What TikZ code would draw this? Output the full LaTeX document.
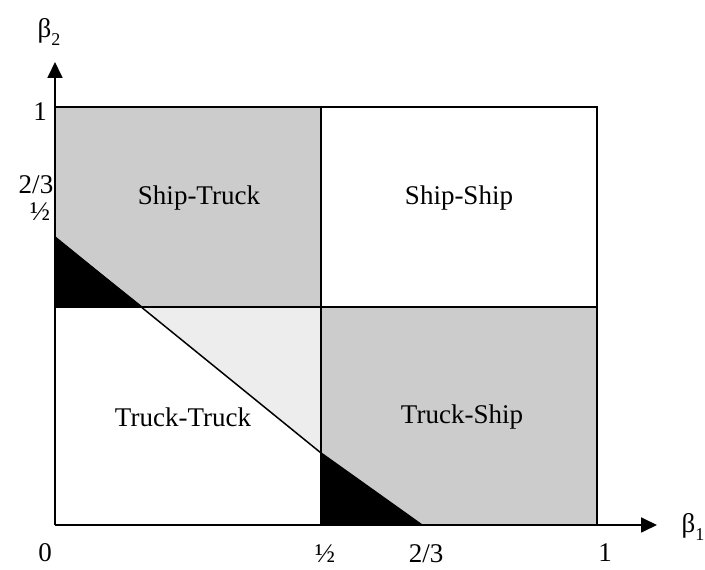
\documentclass[tikz,border=0pt]{standalone}
\usepackage{fontspec}
\setmainfont{Liberation Serif}
\usetikzlibrary{arrows.meta}
\tikzset{
  lbl/.style={font=\fontsize{27}{30}\selectfont, inner sep=0pt},
  boxline/.style={line width=1.8pt},
  axis/.style={line width=1.8pt, -{Triangle[length=16pt,width=15pt]}},
  diag/.style={line width=1.5pt},
  darkfill/.style={fill=black!20},
  lightfill/.style={fill=black!7},
}
\newcommand{\sbx}[1]{\raisebox{-0.28em}{\fontsize{18}{18}\selectfont #1}}
\begin{document}
\begin{tikzpicture}[x=1pt,y=1pt]
\useasboundingbox (0,0) rectangle (705,570);
% coordinates
\coordinate (O) at (55,45);
\coordinate (TL) at (55,463);
\coordinate (TR) at (597,463);
\coordinate (BR) at (597,45);
\coordinate (ML) at (55,263);
\coordinate (MR) at (597,263);
\coordinate (MT) at (321,463);
\coordinate (MB) at (321,45);
\coordinate (C) at (321,263);
\coordinate (A1) at (55,333);
\coordinate (A2) at (143,263);
\coordinate (B1) at (321,117);
\coordinate (B2) at (422,45);
\coordinate (YT) at (55,508);
\coordinate (XT) at (657,45);
% fills
\fill[darkfill] (ML) rectangle (MT);
\fill[darkfill] (MB) rectangle (MR);
\fill[lightfill] (A2) -- (C) -- (B1) -- cycle;
\fill[black] (A1) -- (ML) -- (A2) -- cycle;
\fill[black] (B1) -- (MB) -- (B2) -- cycle;
% lines
\draw[boxline] (TL) -- (TR) -- (BR);
\draw[boxline] (MT) -- (MB);
\draw[boxline] (ML) -- (MR);
\draw[diag] (A1) -- (B1);
\draw[diag] (B1) -- (B2);
\draw[axis] (O) -- (YT);
\draw[axis] (O) -- (XT);
% region labels
\node[lbl] (st) at (199,372) {Ship-Truck};
\node[lbl] (ss) at (459,372) {Ship-Ship};
\node[lbl] (tt) at (183,153) {Truck-Truck};
\node[lbl] (ts) at (462,153) {Truck-Ship};
% axis labels
\node[lbl] (b2) at (49,538) {β\sbx{2}};
\node[lbl] (b1) at (693,43) {β\sbx{1}};
\node[lbl] (y1) at (40,458) {1};
\node[lbl] (y23) at (36,385) {2/3};
\node[lbl] (yh) at (40,358) {½};
\node[lbl] (x0) at (45,17) {0};
\node[lbl] (xh) at (325,16) {½};
\node[lbl] (x23) at (426,16) {2/3};
\node[lbl] (x1) at (605,17) {1};
\end{tikzpicture}
\end{document}
